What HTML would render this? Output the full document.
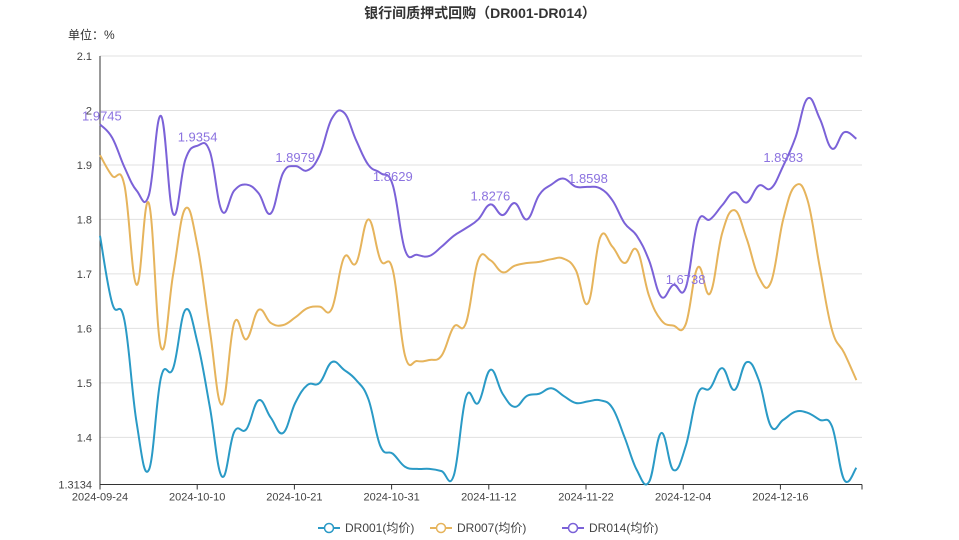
<!DOCTYPE html>
<html><head><meta charset="utf-8">
<style>
html,body{margin:0;padding:0;background:#fff;}
svg{display:block;font-family:"Liberation Sans","Noto Sans CJK SC",sans-serif;}
</style></head>
<body>
<svg id="chart" width="959" height="540" viewBox="0 0 959 540">
  <text x="480" y="18" text-anchor="middle" font-size="14" font-weight="bold" fill="#333">银行间质押式回购（DR001-DR014）</text>
  <text x="68" y="39" font-size="12" fill="#333">单位：%</text>
  <g id="grid"></g>
  <g id="axes"></g>
  <g id="series"></g>
  <g id="labels"></g>
  <g id="legend"></g>
</svg>
<script>
const categories = ["2024-09-24","","","","","","","","2024-10-10","","","","","","","","2024-10-21","","","","","","","","2024-10-31","","","","","","","","2024-11-12","","","","","","","","2024-11-22","","","","","","","","2024-12-04","","","","","","","","2024-12-16","","","","","",""];
const dr001 = [1.77,1.646,1.615,1.427,1.34,1.51,1.527,1.634,1.573,1.456,1.328,1.41,1.415,1.468,1.436,1.408,1.463,1.496,1.50,1.538,1.524,1.505,1.47,1.383,1.37,1.346,1.342,1.342,1.338,1.33,1.474,1.463,1.524,1.48,1.456,1.476,1.48,1.49,1.476,1.463,1.466,1.468,1.454,1.40,1.34,1.318,1.408,1.34,1.383,1.48,1.49,1.527,1.487,1.538,1.505,1.42,1.432,1.447,1.445,1.432,1.42,1.322,1.344];
const dr007 = [1.918,1.88,1.863,1.68,1.83,1.565,1.70,1.82,1.75,1.597,1.46,1.61,1.58,1.634,1.61,1.606,1.62,1.637,1.64,1.636,1.73,1.72,1.80,1.725,1.707,1.55,1.54,1.542,1.55,1.603,1.61,1.725,1.725,1.703,1.715,1.72,1.722,1.727,1.728,1.707,1.646,1.767,1.75,1.72,1.744,1.66,1.615,1.605,1.607,1.712,1.664,1.775,1.817,1.765,1.694,1.685,1.80,1.862,1.835,1.712,1.597,1.555,1.505];
const dr014 = [1.9745,1.95,1.896,1.853,1.844,1.99,1.81,1.91,1.9354,1.925,1.815,1.853,1.864,1.848,1.811,1.885,1.8979,1.89,1.918,1.985,1.996,1.945,1.90,1.885,1.8629,1.744,1.735,1.733,1.75,1.77,1.784,1.80,1.8276,1.808,1.83,1.80,1.845,1.864,1.875,1.86,1.8598,1.857,1.835,1.793,1.77,1.725,1.658,1.68,1.6738,1.795,1.80,1.826,1.85,1.831,1.862,1.857,1.8983,1.95,2.022,1.985,1.93,1.96,1.948];
const yTicks = [1.4,1.5,1.6,1.7,1.8,1.9,2.0,2.1];
const yTickLabels = ["1.4","1.5","1.6","1.7","1.8","1.9","2","2.1"];
const yMin = 1.3134, yMax = 2.1;
const seriesNames = ["DR001(均价)","DR007(均价)","DR014(均价)"];

const NS="http://www.w3.org/2000/svg";
const X0=100, XSTEP=12.2, X1=862, YTOP=56, YBOT=484.5;
function xs(i){return X0+i*XSTEP;}
function ys(v){return YBOT-(v-yMin)/(yMax-yMin)*(YBOT-YTOP);}
function mk(tag,attrs,parent){const e=document.createElementNS(NS,tag);for(const k in attrs)e.setAttribute(k,attrs[k]);parent.appendChild(e);return e;}
const grid=document.getElementById('grid'),axes=document.getElementById('axes'),ser=document.getElementById('series'),lab=document.getElementById('labels'),leg=document.getElementById('legend');

yTicks.forEach((t,k)=>{
  const y=ys(t);
  const l=mk('line',{x1:X0,x2:X1,y1:y,y2:y,stroke:'#e0e0e0','stroke-width':1},grid);
  
  
  const tx=mk('text',{x:92,y:y+4,'text-anchor':'end','font-size':11,fill:'#444'},axes);
  tx.textContent=yTickLabels[k];
  
  
});
const minL=mk('text',{x:92,y:ys(yMin)+4,'text-anchor':'end','font-size':11,fill:'#444'},axes);
minL.textContent=String(yMin);



const ya=mk('line',{x1:X0,x2:X0,y1:YTOP,y2:YBOT,stroke:'#333','stroke-width':1},axes);


const xa=mk('line',{x1:X0,x2:X1,y1:YBOT,y2:YBOT,stroke:'#333','stroke-width':1},axes);


categories.forEach((c,i)=>{
  if(!c) return;
  const x=X0+i*12.15;
  const t=mk('line',{x1:x,x2:x,y1:YBOT,y2:YBOT+5,stroke:'#333'},axes);
  
  
  const tx=mk('text',{x:x,y:YBOT+16,'text-anchor':'middle','font-size':11,fill:'#444'},axes);
  tx.textContent=c;
  
  
});
const te=mk('line',{x1:X1,x2:X1,y1:YBOT,y2:YBOT+5,stroke:'#333'},axes);



function smoothPath(vals){
  const p=vals.map((v,i)=>[xs(i),ys(v)]);
  let d='M'+p[0][0]+','+p[0][1];
  const s=0.2;
  for(let i=0;i<p.length-1;i++){
    const p0=p[Math.max(0,i-1)],p1=p[i],p2=p[i+1],p3=p[Math.min(p.length-1,i+2)];
    const c1=[p1[0]+(p2[0]-p0[0])*s,p1[1]+(p2[1]-p0[1])*s];
    const c2=[p2[0]-(p3[0]-p1[0])*s,p2[1]-(p3[1]-p1[1])*s];
    d+=' C'+c1[0].toFixed(2)+','+c1[1].toFixed(2)+' '+c2[0].toFixed(2)+','+c2[1].toFixed(2)+' '+p2[0].toFixed(2)+','+p2[1].toFixed(2);
  }
  return d;
}
const colors=['#2a9ac6','#e6b45c','#7b62d8'];
const data=[dr001,dr007,dr014];
const names=['line-dr001','line-dr007','line-dr014'];
data.forEach((vals,k)=>{
  const p=mk('path',{d:smoothPath(vals),fill:'none',stroke:colors[k],'stroke-width':2},ser);
  
  
});
dr014.forEach((v,i)=>{
  if(i%8!==0) return;
  const t=mk('text',{x:i===0?X0-18:xs(i),y:ys(v)-4,'text-anchor':i===0?'start':'middle','font-size':13,fill:'#8c73e0'},lab);
  t.textContent=String(v);
  
  
});
const legX=[318,430,562];
seriesNames.forEach((n,k)=>{
  const g=mk('g',{},leg);
  
  
  mk('line',{x1:legX[k],x2:legX[k]+22,y1:528,y2:528,stroke:colors[k],'stroke-width':2},g);
  mk('circle',{cx:legX[k]+11,cy:528,r:4.5,fill:'#fff',stroke:colors[k],'stroke-width':1.5},g);
  const t=mk('text',{x:legX[k]+27,y:532,'font-size':12,fill:'#444'},g);
  t.textContent=n;
});
</script>
</body></html>
